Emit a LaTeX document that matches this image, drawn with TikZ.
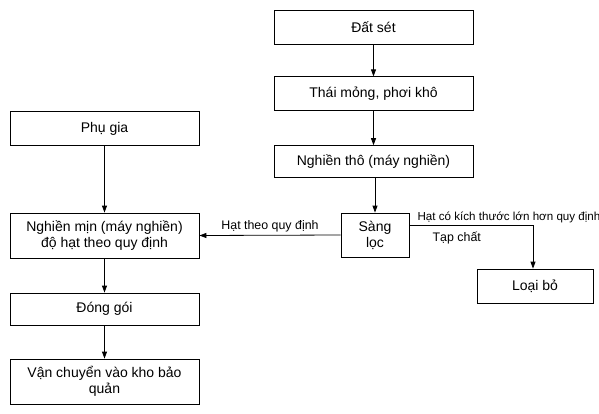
\documentclass[tikz,border=0pt]{standalone}
\usepackage{fontspec}
\setmainfont{Liberation Sans}
\usetikzlibrary{arrows.meta,positioning}
\tikzset{
  stepbox/.style={draw, line width=0.8pt, align=center,
                  minimum width=#1, minimum height=34pt,
                  font=\fontsize{14}{16}\selectfont, inner sep=2pt},
  stepbox/.default=199pt,
  leftbox/.style ={stepbox=189pt},
  sievebox/.style={stepbox=68pt, minimum height=44pt},
  dropbox/.style ={stepbox=116pt},
  arr/.style     ={-{Triangle[length=7pt,width=5pt]}, line width=0.8pt},
  lbl/.style     ={font=\fontsize{12.4}{14}\selectfont, inner sep=1pt},
  smalllbl/.style={lbl, font=\fontsize{11.6}{13}\selectfont},
}
\begin{document}
\begin{tikzpicture}[x=1pt,y=-1pt]
  \useasboundingbox (0,0) rectangle (599,413);
  % right column
  \node[stepbox] (dat) at (373.5,27) {Đất sét};
  \node[stepbox, below=32pt of dat] (thai) {Thái mỏng, phơi khô};
  \node[stepbox, below=34pt of thai, minimum height=32pt] (tho) {Nghiền thô (máy nghiền)};
  \node[sievebox] (sang) at (375,235) {Sàng\\lọc};
  \node[dropbox] (loai) at (535,286) {Loại bỏ};
  % left column
  \node[leftbox] (phu) at (104.5,128.5) {Phụ gia};
  \node[leftbox, minimum height=45pt] (min) at (104.5,235.5) {Nghiền mịn (máy nghiền)\\độ hạt theo quy định};
  \node[leftbox, minimum height=32pt] (dong) at (104.5,309) {Đóng gói};
  \node[leftbox, minimum height=45pt] (van) at (104.5,381.5) {Vận chuyển vào kho bảo\\quản};
  % labels on the sieve outputs
  \coordinate (out) at ([yshift=10pt]sang.east);
  \node[smalllbl, anchor=south west] (lon) at ([xshift=7pt,yshift=1pt]out) {Hạt có kích thước lớn hơn quy định};
  \node[lbl, anchor=north west] (tap) at ([xshift=22pt,yshift=-6pt]out) {Tạp chất};
  % connectors
  \draw[arr] (dat) -- (thai);
  \draw[arr] (thai) -- (tho);
  \draw[arr] (tho.south -| sang.north) -- (sang.north);
  \draw[arr] (phu) -- (min);
  \draw[arr] (sang.west) -- node[lbl, anchor=south, yshift=2pt] {Hạt theo quy định} (min.east);
  \draw[arr] (out) -| ([xshift=-2pt]loai.north);
  \draw[arr] (min) -- (dong);
  \draw[arr] (dong) -- (van);
\end{tikzpicture}
\end{document}
